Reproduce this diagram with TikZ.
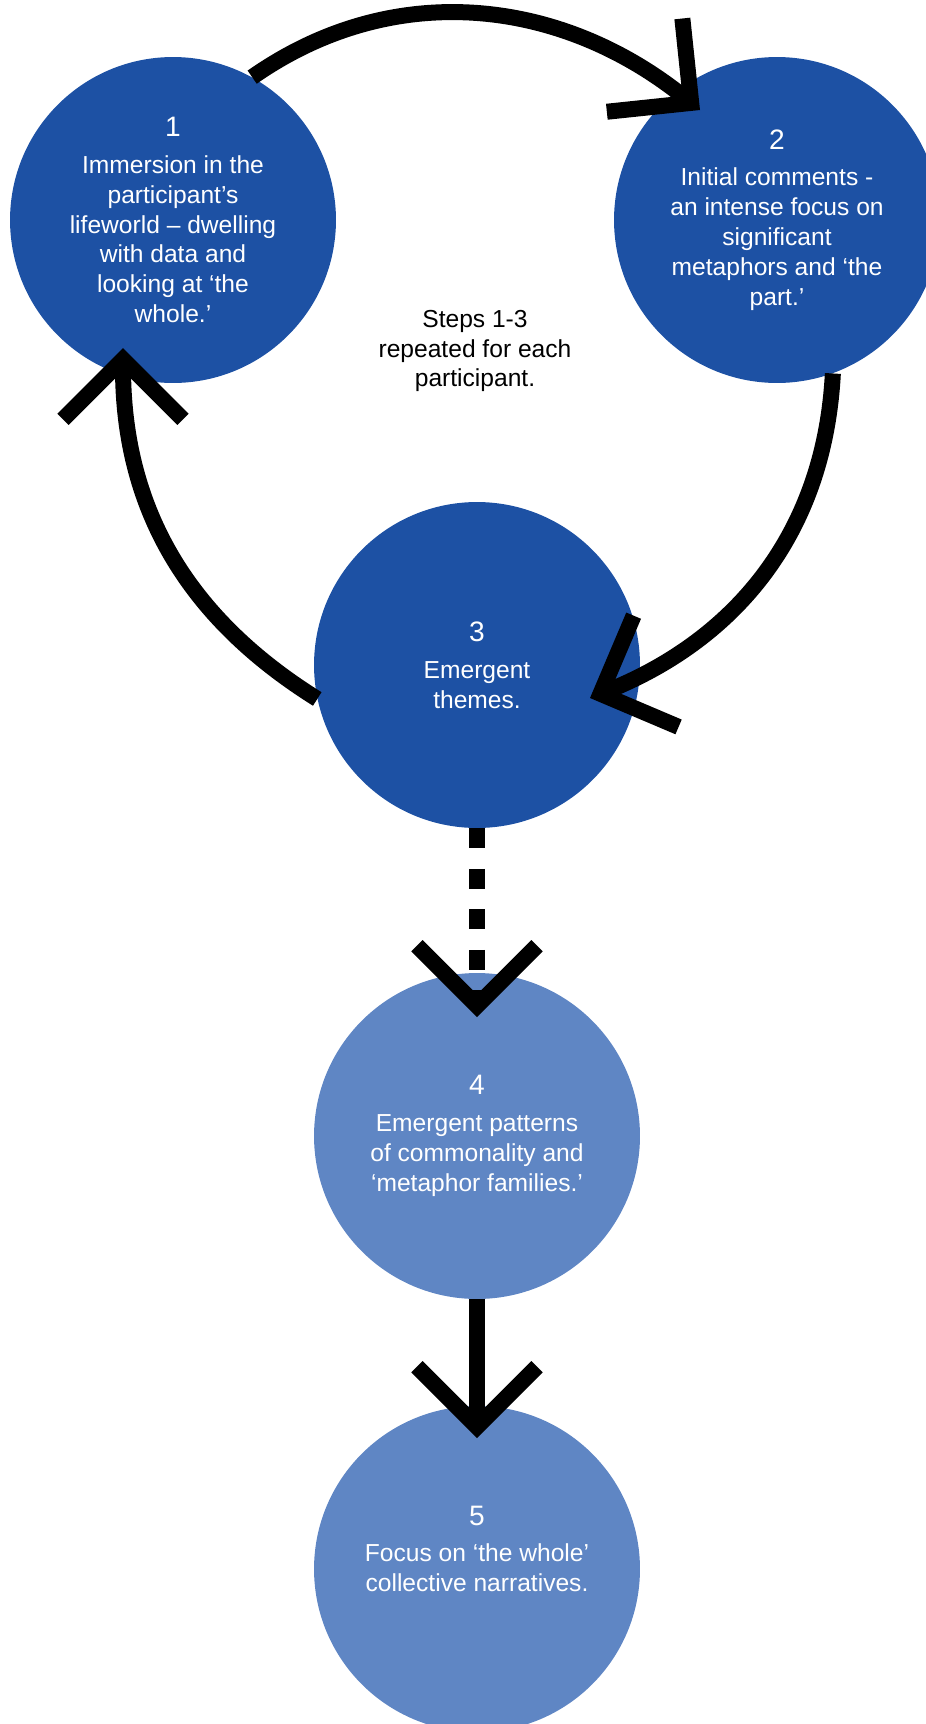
\documentclass[tikz,border=0pt]{standalone}
\usepackage{fontspec}
\setmainfont{Liberation Sans}
\usetikzlibrary{arrows.meta}
\definecolor{deepblue}{HTML}{1D51A4}
\definecolor{paleblue}{HTML}{5F86C4}
\def\stepno#1{{\fontsize{16}{20}\selectfont #1}\\[4pt]}
\tikzset{
  stage/.style={circle,fill=#1,text=white,minimum size=6.52cm,inner sep=0pt,
    align=center,font=\fontsize{14}{17}\selectfont},
  flow/.style={line width=0.32cm,-{Straight Barb[length=1.2cm,width=2.4cm]}}
}
\def\flow{\draw[flow]}

\begin{document}
\begin{tikzpicture}[x=0.02cm,y=0.02cm]
  \useasboundingbox (0,0) rectangle (926,-1724);
  \node[stage=deepblue] (s1) at (173,-220) {\stepno{1}Immersion in the\\participant’s\\lifeworld – dwelling\\with data and\\looking at ‘the\\whole.’};
  \node[stage=deepblue] (s2) at (777,-220) {\stepno{2}Initial comments -\\an intense focus on\\significant\\metaphors and ‘the\\part.’};
  \node[stage=deepblue] (s3) at (477,-665) {\stepno{3}Emergent\\themes.};
  \node[stage=paleblue] (s4) at (477,-1136) {\stepno{4}Emergent patterns\\of commonality and\\‘metaphor families.’};
  \node[stage=paleblue] (s5) at (477,-1569) {\stepno{5}Focus on ‘the whole’\\collective narratives.\\[6pt]\mbox{}};
  \node[align=center,font=\fontsize{14}{17}\selectfont] (note) at (475,-351) {Steps 1-3\\repeated for each\\participant.};
  % the loop over steps 1-3
  \flow (s1.61) to[out=35,in=141] ([shift={(-77,110)}]s2.center);
  \flow (s2.-70) to[out=-93,in=22] ([shift={(113,-33)}]s3.center);
  \flow (s3.192) to[out=148,in=-90] ([shift={(-50,-128)}]s1.center);
  % then on to the whole
  \flow[dash pattern=on 0.4cm off 0.41cm] (s3.south) -- ([shift={(0,119)}]s4.center);
  \flow (s4.south) -- ([shift={(0,131)}]s5.center);
\end{tikzpicture}
\end{document}
